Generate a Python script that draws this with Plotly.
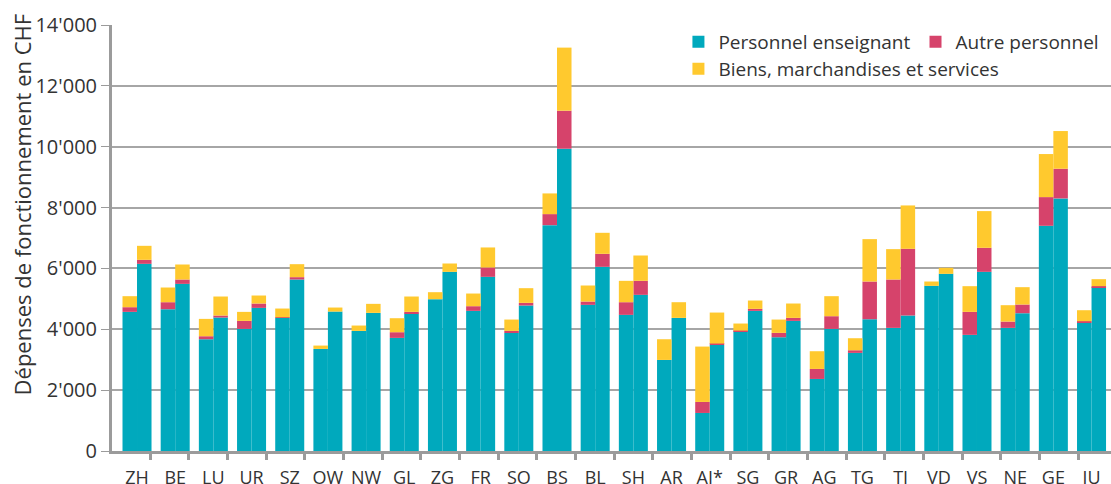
import numpy as np
import plotly.graph_objects as go

cantons = ["ZH", "BE", "LU", "UR", "SZ", "OW", "NW", "GL", "ZG", "FR", "SO", "BS", "BL",
           "SH", "AR", "AI*", "SG", "GR", "AG", "TG", "TI", "VD", "VS", "NE", "GE", "JU"]

# left bar of each canton
ens_a = [4572, 4660, 3673, 4013, 4375, 3355, 3947, 3717, 4989, 4605, 3882, 7423, 4803,
         4474, 2993, 1250, 3936, 3739, 2368, 3224, 4046, 5428, 3816, 4046, 7401, 4211]
autre_a = [154, 230, 99, 263, 20, 0, 0, 187, 0, 154, 65, 362, 109,
           416, 0, 362, 20, 143, 329, 87, 1590, 0, 756, 208, 943, 54]
biens_a = [362, 483, 570, 296, 287, 110, 176, 460, 230, 416, 373, 680, 527,
           702, 680, 1820, 233, 438, 582, 395, 998, 142, 845, 538, 1415, 362]

# right bar of each canton
ens_b = [6151, 5493, 4386, 4704, 5636, 4583, 4539, 4518, 5888, 5724, 4781, 9934, 6053,
         5132, 4375, 3487, 4605, 4276, 4013, 4331, 4452, 5822, 5888, 4529, 8300, 5384]
autre_b = [132, 143, 66, 143, 77, 0, 0, 54, 0, 307, 87, 1250, 427,
           460, 0, 44, 66, 99, 417, 1239, 2193, 0, 790, 285, 976, 33]
biens_b = [460, 493, 625, 263, 427, 132, 297, 505, 274, 658, 483, 2073, 691,
           833, 515, 1019, 274, 472, 658, 1393, 1425, 198, 1206, 570, 1239, 230]

series_names = ["Personnel enseignant", "Autre personnel", "Biens, marchandises et services"]
colors = ["#00A9BD", "#D6436B", "#FFC92E"]
legend_ids = ["legend", "legend", "legend2"]
y_title = "Dépenses de fonctionnement en CHF"

idx = np.arange(len(cantons))
half = 0.19
x_a = idx - half
x_b = idx + half

fig = go.Figure()
for k, (va, vb) in enumerate([(ens_a, ens_b), (autre_a, autre_b), (biens_a, biens_b)]):
    fig.add_trace(go.Bar(x=x_a, y=va, width=2 * half, name=series_names[k],
                         marker=dict(color=colors[k], line=dict(width=0)),
                         legend=legend_ids[k], showlegend=True))
    fig.add_trace(go.Bar(x=x_b, y=vb, width=2 * half, name=series_names[k],
                         marker=dict(color=colors[k], line=dict(width=0)),
                         legend=legend_ids[k], showlegend=False))

font_family = "Open Sans"
axis_grey = "#9B9B9B"
legend_style = dict(orientation="h", xanchor="left", yanchor="top",
                    bgcolor="rgba(0,0,0,0)", font=dict(size=19, color="#333333"),
                    traceorder="normal")
fig.update_layout(
    barmode="relative",
    width=1111, height=484,
    margin=dict(l=112, r=0, t=25, b=33, autoexpand=False),
    paper_bgcolor="white", plot_bgcolor="white",
    font=dict(family=font_family, size=18, color="#333333"),
    legend=dict(x=0.567, y=1.0047, **legend_style),
    legend2=dict(x=0.567, y=0.9413, **legend_style),
    xaxis=dict(range=[-0.655, 25.51], tickmode="array", tickvals=idx, ticktext=cantons,
               ticks="outside", ticklen=8, tickcolor="rgba(0,0,0,0)",
               showgrid=False, zeroline=False,
               showline=True, linecolor=axis_grey, linewidth=3,
               minor=dict(ticks="outside", tickmode="linear", tick0=0.3405, dtick=1.01275,
                          ticklen=6, tickwidth=3, tickcolor=axis_grey, showgrid=False),
               tickfont=dict(size=18)),
    yaxis=dict(range=[0, 14000], tickmode="linear", tick0=0, dtick=2000,
               tickformat=",", separatethousands=True,
               ticks="outside", ticklen=8, tickwidth=1, tickcolor=axis_grey,
               showgrid=True, gridcolor="#A6A6A6", gridwidth=2,
               zeroline=False, showline=True, linecolor=axis_grey, linewidth=3,
               tickfont=dict(size=20)),
    separators=".'",
)
fig.add_annotation(text=y_title, textangle=-90, showarrow=False,
                   xref="paper", yref="paper", x=-0.090, y=0.579,
                   xanchor="center", yanchor="middle",
                   font=dict(size=22, color="#333333", family=font_family))

fig.write_html("out.html", config={"displayModeBar": False},
               post_script="document.body.style.margin='0';document.body.style.padding='0';")
